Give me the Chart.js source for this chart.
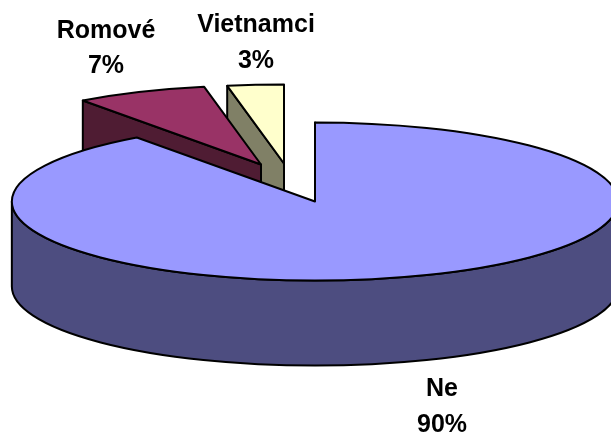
<!DOCTYPE html>
<html>
<head>
<meta charset="utf-8">
<style>
	html, body { margin: 0; padding: 0; background: #fff; }
	#wrap { width: 611px; height: 434px; overflow: hidden; }
</style>
<script src="https://cdn.jsdelivr.net/npm/chart.js@4"></script>
</head>
<body>
<div id="wrap"><canvas id="pie" width="611" height="434"></canvas></div>
<script>
const categories = ["Ne", "Romové", "Vietnamci"];
const shares = [90, 7, 3];
const topColors = ["#9999ff", "#993366", "#ffffcc"];
const sideColors = ["#4d4d80", "#4f1c33", "#808066"];

// how far each slice is pulled out of the pie, in px
const pullX = [0, -54, -31];
const pullY = [0, -37, -38];
// label anchors: x centre, baseline of name, baseline of percent
const labelX = [442, 106, 256];
const nameY = [396, 38, 32];
const percentY = [432, 73, 68];

const stretchX = 1.512;
const stretchY = 0.3945;
const depth = 85;

function slicePath(ctx, cx, cy, rx, ry, start, end) {
	ctx.beginPath();
	ctx.moveTo(cx, cy);
	ctx.ellipse(cx, cy, rx, ry, 0, start, end);
	ctx.closePath();
}

function paint(ctx, fill) {
	ctx.fillStyle = fill;
	ctx.fill();
	ctx.stroke();
}

const pie3d = {
	id: "pie3d",
	// the flat pie is replaced, its arc elements still give the angles and radius
	beforeDatasetDraw(chart) {
		const ctx = chart.ctx;
		const arcs = chart.getDatasetMeta(0).data;
		ctx.save();
		ctx.strokeStyle = "#000";
		ctx.lineWidth = 2;
		ctx.lineJoin = "round";

		for (let i = arcs.length - 1; i >= 0; i -= 1) {
			const arc = arcs[i];
			const { x, y, startAngle, endAngle, outerRadius } = arc.getProps(["x", "y", "startAngle", "endAngle", "outerRadius"], true);
			const cx = x + pullX[i];
			const cy = y + pullY[i];
			const rx = outerRadius * stretchX;
			const ry = outerRadius * stretchY;

			// cut face at the start of the slice
			const ex = cx + rx * Math.cos(startAngle);
			const ey = cy + ry * Math.sin(startAngle);
			ctx.beginPath();
			ctx.moveTo(cx, cy);
			ctx.lineTo(ex, ey);
			ctx.lineTo(ex, ey + depth);
			ctx.lineTo(cx, cy + depth);
			ctx.closePath();
			paint(ctx, sideColors[i]);

			// rim, only the part that faces the viewer
			const from = Math.max(startAngle, 0);
			const to = Math.min(endAngle, Math.PI);
			if (to > from) {
				ctx.beginPath();
				ctx.ellipse(cx, cy, rx, ry, 0, from, to);
				ctx.ellipse(cx, cy + depth, rx, ry, 0, to, from, true);
				ctx.closePath();
				paint(ctx, sideColors[i]);
			}

			slicePath(ctx, cx, cy, rx, ry, startAngle, endAngle);
			paint(ctx, topColors[i]);
		}
		ctx.restore();
		return false;
	},
	afterDraw(chart) {
		const ctx = chart.ctx;
		ctx.save();
		ctx.fillStyle = "#000";
		ctx.font = 'bold 25px "Liberation Sans", Arial, sans-serif';
		ctx.textAlign = "center";
		categories.forEach((name, i) => {
			ctx.fillText(name, labelX[i], nameY[i]);
			ctx.fillText(shares[i] + "%", labelX[i], percentY[i]);
		});
		ctx.restore();
	},
};

new Chart(document.getElementById("pie"), {
	type: "pie",
	data: {
		labels: categories,
		datasets: [{ data: shares, backgroundColor: topColors, borderColor: "#000", borderWidth: 2 }],
	},
	options: {
		responsive: false,
		animation: false,
		layout: { padding: { left: 19, bottom: 31 } },
		plugins: { legend: { display: false }, tooltip: { enabled: false } },
	},
	plugins: [pie3d],
});
</script>
</body>
</html>
